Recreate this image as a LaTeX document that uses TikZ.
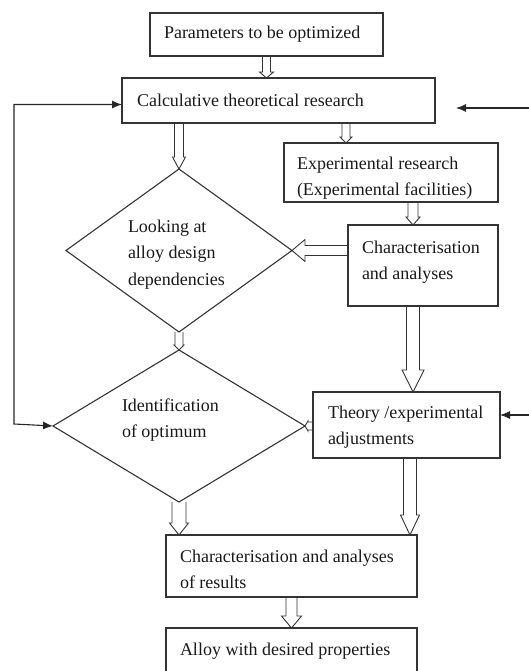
\documentclass[tikz,border=0pt]{standalone}
\usepackage{fontspec}
\setmainfont{Liberation Serif}
\usetikzlibrary{shapes.geometric,calc,arrows.meta}
\tikzset{
  every node/.style={outer sep=0pt},
  box/.style={draw=black!80, line width=1.1pt, inner sep=0pt},
  dia/.style={diamond, draw=black!80, line width=1.1pt, inner sep=0pt},
  lbl/.style={inner sep=0pt, align=left, font=\fontsize{18}{26.5}\selectfont, text=black!90},
  harrow/.style={draw=black!80, line width=0.9pt, line join=miter},
  conn/.style={draw=black!85, line width=1.1pt},
  tip/.tip={Latex[length=10pt,width=8pt]}
}
\newcommand\hollowarrow[5]{%
  \coordinate (ha) at (#1);
  \coordinate (hb) at (#2);
  \coordinate (hh) at ($(hb)!#5!(ha)$);
  \draw[harrow] ($(ha)!#3!90:(hb)$) -- ($(hh)!#3!90:(hb)$) -- ($(hh)!#4!90:(hb)$) -- (hb)
    -- ($(hh)!#4!-90:(hb)$) -- ($(hh)!#3!-90:(hb)$) -- ($(ha)!#3!-90:(hb)$);
}
\begin{document}
\begin{tikzpicture}[x=1pt,y=1pt]
\useasboundingbox (0,0) rectangle (529,-671);
\clip (0,0) rectangle (529,-671);
% boxes
\node[box, minimum width=233pt, minimum height=43pt] (box1) at (266.5,-34.5) {};
\node[box, minimum width=313pt, minimum height=45pt] (box2) at (278.5,-100.5) {};
\node[box, minimum width=214pt, minimum height=59pt] (box3) at (391,-172.5) {};
\node[box, minimum width=150pt, minimum height=81pt] (box4) at (423,-265.5) {};
\node[box, minimum width=187pt, minimum height=66pt] (box5) at (406.5,-425) {};
\node[box, minimum width=251pt, minimum height=62pt] (box6) at (291.5,-566) {};
\node[box, minimum width=251pt, minimum height=62pt] (box7) at (291.5,-659) {};
% diamonds
\node[dia, minimum width=226pt, minimum height=163pt] (d1) at (179,-250.5) {};
\node[dia, minimum width=252pt, minimum height=152pt] (d2) at (179,-426) {};
% texts
\node[lbl, anchor=base west] (t1) at (164,-39) {Parameters to be optimized};
\node[lbl, anchor=base west] (t2) at (137,-107) {Calculative theoretical research};
\node[lbl, anchor=north west] (t3) at (297,-156.7) {Experimental research\\(Experimental facilities)};
\node[lbl, anchor=north west] (t4) at (362,-240.7) {Characterisation\\and analyses};
\node[lbl, anchor=north west] (td1) at (128,-219.7) {Looking at\\alloy design\\dependencies};
\node[lbl, anchor=north west] (td2) at (122,-398.7) {Identification\\of optimum};
\node[lbl, anchor=north west] (t5) at (328,-405.7) {Theory /experimental\\adjustments};
\node[lbl, anchor=north west] (t6) at (180,-549.7) {Characterisation and analyses\\of results};
\node[lbl, anchor=base west] (t7) at (180,-655) {Alloy with desired properties};
% helper coordinates
\coordinate (a3) at ($(box2.south)+(67.5,0)$);
\coordinate (a4) at ($(box4.north)+(-10,0)$);
\coordinate (a10) at ($(box5.south)+(3.5,0)$);
% hollow arrows
\hollowarrow{box1.south}{box1.south |- box2.north}{4pt}{7pt}{6pt}
\hollowarrow{d1.north |- box2.south}{d1.north}{4.5pt}{6.5pt}{12pt}
\hollowarrow{a3}{a3 |- box3.north}{4pt}{6pt}{6pt}
\hollowarrow{a4 |- box3.south}{a4}{5pt}{7pt}{8pt}
\hollowarrow{d1.east -| box4.west}{d1.east}{5pt}{11pt}{13pt}
\hollowarrow{a4 |- box4.south}{a4 |- box5.north}{6.5pt}{11pt}{22pt}
\hollowarrow{d1.south}{d2.north}{4pt}{5pt}{5pt}
\hollowarrow{d2.east -| box5.west}{d2.east}{4pt}{5pt}{3pt}
\hollowarrow{d2.south}{d2.south |- box6.north}{7pt}{9.5pt}{12pt}
\hollowarrow{a10}{a10 |- box6.north}{6.5pt}{9.5pt}{20pt}
\hollowarrow{box6.south}{box6.south |- box7.north}{5.5pt}{10pt}{12pt}
% solid connectors
\coordinate (b2in) at ($(box2.west)+(0,-4)$);
\coordinate (loopbot) at ($(d2.west)+(-39,2)$);
\draw[conn, {tip}-{tip}] (b2in) -| (loopbot) -- (d2.west);
\coordinate (r1s) at (530,-108);
\coordinate (r1e) at ($(box2.east)+(21,-7.5)$);
\draw[conn, -{tip}] (r1s) -- (r1e);
\coordinate (r2s) at (530,-415);
\draw[conn, -{tip}] (r2s) -- (r2s -| box5.east);
\end{tikzpicture}
\end{document}
